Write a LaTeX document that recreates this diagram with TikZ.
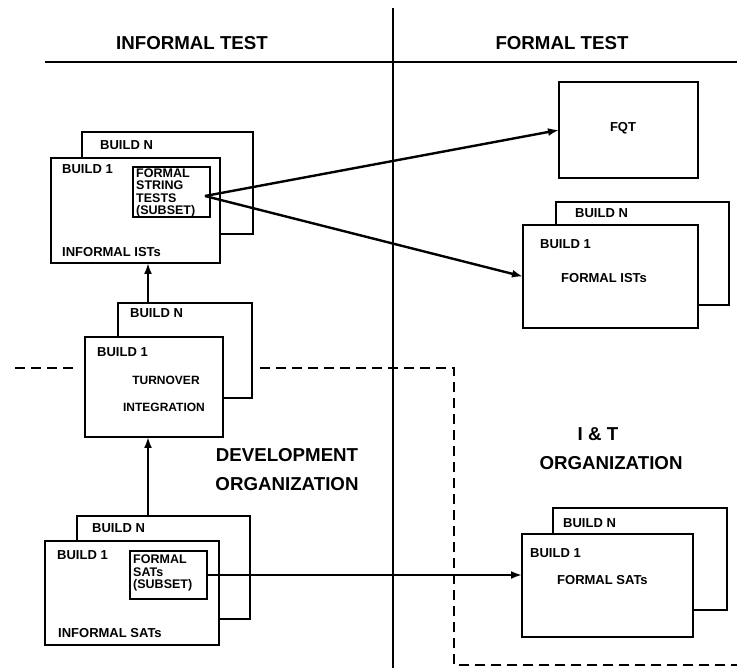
\documentclass[tikz,border=0pt]{standalone}
\usepackage{fontspec}
\setmainfont{Liberation Sans}
\usetikzlibrary{arrows.meta}
\begin{document}
\begin{tikzpicture}[x=1pt,y=-1pt,
  box/.style={draw, line width=2.6pt, fill=white, anchor=north west, inner sep=0pt, outer sep=0pt},
  sbox/.style={draw, line width=2.3pt, fill=white, anchor=north west, inner sep=0pt, outer sep=0pt},
  lbl/.style={anchor=west, inner sep=0pt, font=\fontsize{13}{14}\selectfont\bfseries},
  clbl/.style={inner sep=0pt, font=\fontsize{12}{13}\selectfont\bfseries},
  sublbl/.style={anchor=west, align=left, inner sep=0pt, font=\fontsize{12.5}{12.4}\selectfont\bfseries},
  big/.style={inner sep=0pt, font=\fontsize{18.7}{22}\selectfont\bfseries},
  arr/.style={line width=2.4pt, -{Latex[length=11pt,width=8pt]}},
  rule/.style={line width=2.3pt},
  orgline/.style={line width=2.2pt, dash pattern=on 10pt off 6pt}
]
\useasboundingbox (0,0) rectangle (737,668);
% structure lines
\draw[rule] (45,62) -- (737,62);
\draw[rule] (393,8) -- (393,668);
\node[big] (hinf) at (192,43) {INFORMAL TEST};
\node[big] (hfor) at (562,43) {FORMAL TEST};
% dashed organisation boundary
\draw[orgline] (15,368) -- (78,368);
\draw[orgline] (260,368) -- (454,368) -- (454,665) -- (737,665);
\node[big] (dev) at (287,455) {DEVELOPMENT};
\node[big] (devorg) at (287,484) {ORGANIZATION};
\node[big] (it) at (598,434) {I \& T};
\node[big] (itorg) at (611,463) {ORGANIZATION};
% top-left group
\node[box, minimum width=171pt, minimum height=102pt] (tlN) at (82,132) {};
\node[box, minimum width=169pt, minimum height=105pt] (tl1) at (51,158) {};
\node[sbox, minimum width=77pt, minimum height=50pt] (tlsub) at (133,167) {};
\node[lbl] (tlNl) at (100,145) {BUILD N};
\node[lbl] (tl1l) at (62,169) {BUILD 1};
\node[lbl] (tlbot) at (62,252) {INFORMAL ISTs};
\node[sublbl] (tlsubl) at (136,193) {FORMAL\\STRING\\TESTS\\(SUBSET)};
\coordinate (src) at (205,196);
% turnover group
\node[box, minimum width=134pt, minimum height=95pt] (tnN) at (118,303) {};
\node[box, minimum width=138pt, minimum height=100pt] (tn1) at (85,337) {};
\node[lbl] (tnNl) at (130,313) {BUILD N};
\node[lbl] (tn1l) at (97,352) {BUILD 1};
\node[clbl] (tnt) at (166,380) {TURNOVER};
\node[clbl] (tni) at (164,407) {INTEGRATION};
% bottom-left group
\node[box, minimum width=173pt, minimum height=103pt] (bN) at (77,516) {};
\node[box, minimum width=174pt, minimum height=104pt] (b1) at (45,541) {};
\node[sbox, minimum width=77pt, minimum height=48pt] (bsub) at (130,551) {};
\node[lbl] (bNl) at (92,528) {BUILD N};
\node[lbl] (b1l) at (57,555) {BUILD 1};
\node[lbl] (bbot) at (58,633) {INFORMAL SATs};
\node[sublbl] (bsubl) at (133,573) {FORMAL\\SATs\\(SUBSET)};
% FQT
\node[box, minimum width=139pt, minimum height=96pt] (fqt) at (559,82) {};
\node[clbl, font=\fontsize{13}{14}\selectfont\bfseries] (fqtl) at (623,128) {FQT};
% formal ISTs
\node[box, minimum width=173pt, minimum height=103pt] (fiN) at (556,202) {};
\node[box, minimum width=175pt, minimum height=103pt] (fi1) at (523,225) {};
\node[lbl] (fiNl) at (575,213) {BUILD N};
\node[lbl] (fi1l) at (540,244) {BUILD 1};
\node[lbl] (fil) at (561,278) {FORMAL ISTs};
% formal SATs
\node[box, minimum width=174pt, minimum height=102pt] (fsN) at (553,508) {};
\node[box, minimum width=171pt, minimum height=103pt] (fs1) at (522,534) {};
\node[lbl] (fsNl) at (563,523) {BUILD N};
\node[lbl] (fs1l) at (530,553) {BUILD 1};
\node[lbl] (fsl) at (557,580) {FORMAL SATs};
% connectors
\draw[arr] (src) -- (fqt.west);
\draw[arr] (src) -- (fi1.west);
\draw[arr] ([xshift=30pt]tnN.north west) -- ([xshift=30pt]tnN.north west |- tl1.south);
\draw[arr] ([xshift=71pt]bN.north west) -- ([xshift=71pt]bN.north west |- tn1.south);
\draw[arr] (bsub.east) -- (bsub.east -| fs1.west);
\end{tikzpicture}
\end{document}
